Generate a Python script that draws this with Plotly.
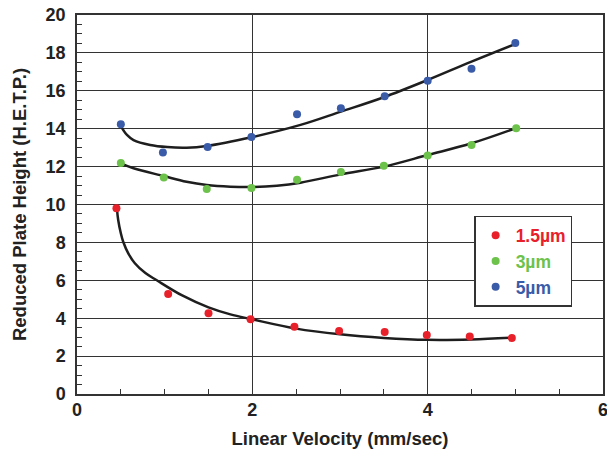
import plotly.graph_objects as go

# measured points
x_15 = [0.45, 1.04, 1.50, 1.98, 2.48, 2.99, 3.51, 3.99, 4.48, 4.96]
y_15 = [9.80, 5.28, 4.26, 3.94, 3.55, 3.32, 3.27, 3.11, 3.04, 2.95]

x_3 = [0.50, 0.99, 1.48, 1.99, 2.51, 3.01, 3.50, 4.00, 4.50, 5.01]
y_3 = [12.19, 11.43, 10.82, 10.87, 11.31, 11.71, 12.05, 12.58, 13.14, 14.02]

x_5 = [0.50, 0.98, 1.49, 1.99, 2.51, 3.01, 3.51, 4.00, 4.50, 5.00]
y_5 = [14.23, 12.75, 13.03, 13.56, 14.76, 15.08, 15.71, 16.53, 17.17, 18.52]

# fitted curves
fx_15 = [0.456, 0.47, 0.50, 0.528, 0.585, 0.66, 0.78, 0.91, 1.20,
         1.50, 1.75, 2.00, 2.50, 3.00, 3.50, 4.00, 4.50, 4.95]
fy_15 = [9.75, 9.18, 8.48, 8.02, 7.42, 6.90, 6.38, 6.00, 5.20,
         4.57, 4.20, 3.94, 3.45, 3.15, 2.96, 2.86, 2.88, 2.97]

fx_3 = [0.50, 0.645, 0.99, 1.25, 1.48, 1.75, 1.99, 2.28, 2.55, 3.01, 3.50, 4.00, 4.50, 5.00]
fy_3 = [12.17, 11.91, 11.50, 11.20, 11.03, 10.94, 10.92, 10.99, 11.15, 11.59, 12.00, 12.61, 13.23, 14.02]

fx_5 = [0.50, 0.57, 0.645, 0.835, 1.03, 1.25, 1.48, 1.99, 2.55, 3.01, 3.50, 4.00, 4.50, 5.00]
fy_5 = [14.14, 13.67, 13.40, 13.14, 13.03, 13.00, 13.09, 13.55, 14.20, 14.90, 15.66, 16.57, 17.54, 18.47]

names = ["1.5µm", "3µm", "5µm"]
colors = ["#e8202a", "#6cc24a", "#3a5ba8"]

fig = go.Figure()

for fx, fy in [(fx_15, fy_15), (fx_3, fy_3), (fx_5, fy_5)]:
    fig.add_trace(go.Scatter(x=fx, y=fy, mode="lines",
                             line=dict(color="#1e1e1e", width=2.5, shape="spline", smoothing=1.0),
                             showlegend=False, hoverinfo="skip"))

for (xs, ys), nm, c in zip([(x_15, y_15), (x_3, y_3), (x_5, y_5)], names, colors):
    fig.add_trace(go.Scatter(x=xs, y=ys, mode="markers",
                             marker=dict(color=c, size=8),
                             name=f"<span style='color:{c}'>{nm}</span>"))

font_fam = "Liberation Sans, Arial, sans-serif"
axis_common = dict(
    showline=True, linecolor="#333", linewidth=1.5, mirror=True,
    showgrid=True, gridcolor="#333", gridwidth=1,
    zeroline=False, automargin=False, ticklabeloverflow="allow",
    ticks="inside", ticklen=5, tickcolor="#333", tickwidth=1,
    tickfont=dict(family=font_fam, size=18, color="#222", weight="bold"),
)

fig.update_xaxes(range=[0, 6], dtick=2, tick0=0, ticklabelstandoff=-1,
                 minor=dict(dtick=0.5, ticks="inside", ticklen=5, tickcolor="#333", showgrid=False),
                 title=dict(text="<b>Linear Velocity (mm/sec)</b>",
                            font=dict(family=font_fam, size=18.5, color="#222"), standoff=13),
                 **axis_common)
fig.update_yaxes(range=[0, 20], dtick=2, tick0=0, ticklabelstandoff=6,
                 minor=dict(dtick=0.5, ticks="inside", ticklen=5, tickcolor="#333", showgrid=False),
                 title=dict(text="<b>Reduced Plate Height (H.E.T.P.)</b>",
                            font=dict(family=font_fam, size=18.5, color="#222"), standoff=14),
                 **axis_common)

fig.update_layout(
    width=607, height=455,
    margin=dict(l=77, r=4, t=15, b=61),
    paper_bgcolor="white", plot_bgcolor="white",
    showlegend=True,
    legend=dict(x=0.755, y=0.47, xanchor="left", yanchor="top",
                bgcolor="white", bordercolor="#333", borderwidth=1.5,
                font=dict(family=font_fam, size=17.5, weight="bold"),
                itemwidth=30),
)

fig.write_html("out.html",
               config={"displayModeBar": False},
               post_script="document.body.style.margin='0';document.body.style.overflow='hidden';")
